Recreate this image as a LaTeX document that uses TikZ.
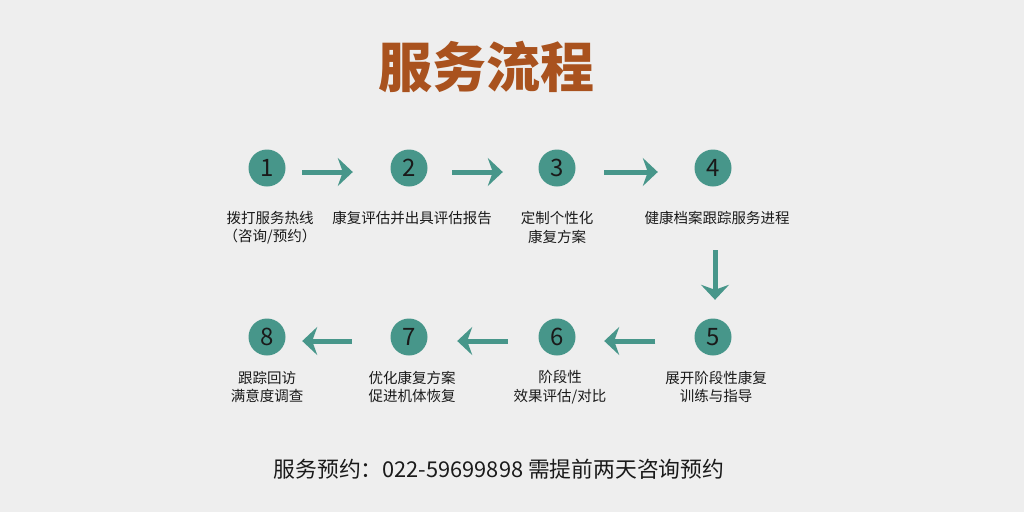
\documentclass[tikz,border=0pt]{standalone}
\usepackage{fontspec}
\setmainfont{Noto Sans CJK SC}
\usetikzlibrary{arrows.meta}
\definecolor{bgray}{HTML}{EEEEEE}
\definecolor{tealc}{HTML}{47968A}
\definecolor{rust}{HTML}{A9521E}
\definecolor{ink}{HTML}{1A1A1A}
\begin{document}
\begin{tikzpicture}[x=1pt,y=-1pt,
	stepdot/.style={circle,fill=tealc,minimum size=37pt,inner sep=0pt,text=ink,font=\fontsize{24}{24}\selectfont},
	txt/.style={align=center,inner sep=0pt,text=ink,font=\fontsize{14.5}{18.5}\selectfont},
	flow/.style={draw=tealc,line width=5pt,-{Stealth[length=15pt,width=28pt,inset=5pt]}}]
		\fill[bgray] (0,0) rectangle (1024,512);
		\useasboundingbox (0,0) rectangle (1024,512);
		\node[inner sep=0pt,text=rust,font=\fontsize{54}{54}\selectfont\bfseries] (title) at (486,67) {服务流程};
		% first row
		\node[stepdot] (n1) at (267,168) {1};
		\node[stepdot] (n2) at (409,168) {2};
		\node[stepdot] (n3) at (557,168) {3};
		\node[stepdot] (n4) at (713,168) {4};
		\node[txt] (t1) at (270,227.5) {拨打服务热线\\（咨询/预约）};
		\node[txt] (t2) at (412,218) {康复评估并出具评估报告};
		\node[txt] (t3) at (557,227.5) {定制个性化\\康复方案};
		\node[txt] (t4) at (717,218) {健康档案跟踪服务进程};
		% second row
		\node[stepdot] (n5) at (713,337) {5};
		\node[stepdot] (n6) at (557,337) {6};
		\node[stepdot] (n7) at (409,337) {7};
		\node[stepdot] (n8) at (267,337) {8};
		\node[txt] (t5) at (716,387) {展开阶段性康复\\训练与指导};
		\node[txt] (t6) at (560,387) {阶段性\\效果评估/对比};
		\node[txt] (t7) at (412,387) {优化康复方案\\促进机体恢复};
		\node[txt] (t8) at (267,387) {跟踪回访\\满意度调查};
		\draw[flow,shorten <=16.5pt,shorten >=37.5pt] ([yshift=-4pt]n1.east) -- ([yshift=-4pt]n2.west);
		\draw[flow,shorten <=24.5pt,shorten >=35.5pt] ([yshift=-4pt]n2.east) -- ([yshift=-4pt]n3.west);
		\draw[flow,shorten <=28.5pt,shorten >=36.5pt] ([yshift=-4pt]n3.east) -- ([yshift=-4pt]n4.west);
		\draw[flow,shorten <=63.5pt,shorten >=18.5pt] ([xshift=2pt]n4.south) -- ([xshift=2pt]n5.north);
		\draw[flow,shorten <=39pt,shorten >=28.5pt] ([yshift=-4pt]n5.west) -- ([yshift=-4pt]n6.east);
		\draw[flow,shorten <=30.5pt,shorten >=29.5pt] ([yshift=-4pt]n6.west) -- ([yshift=-4pt]n7.east);
		\draw[flow,shorten <=38.5pt,shorten >=16.5pt] ([yshift=-4pt]n7.west) -- ([yshift=-4pt]n8.east);
		\node[inner sep=0pt,text=ink,font=\fontsize{21.8}{21.8}\selectfont] (book) at (499,469) {服务预约：022-59699898 需提前两天咨询预约};
		\end{tikzpicture}
\end{document}
